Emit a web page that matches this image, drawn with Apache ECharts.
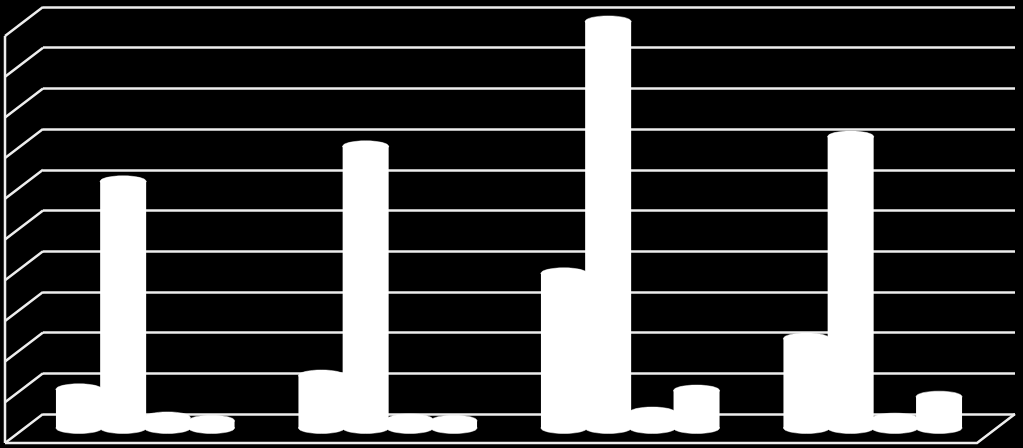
<!DOCTYPE html>
<html><head><meta charset="utf-8">
<style>html,body{margin:0;padding:0;background:#000}#c{width:1023px;height:448px}</style>
<script src="https://cdn.jsdelivr.net/npm/echarts@6/dist/echarts.min.js"></script>
</head><body><div id="c"></div>
<script>
const categories = ['Group 1','Group 2','Group 3','Group 4'];
const seriesA = [9.5, 12.9, 38.0, 22.0];
const seriesB = [60.6, 69.2, 99.9, 71.6];
const seriesC = [2.6, 2.1, 3.8, 2.3];
const seriesD = [1.8, 1.8, 9.2, 7.7];
const ticks = [0,10,20,30,40,50,60,70,80,90,100];

const chart = echarts.init(document.getElementById('c'), null, {renderer:'canvas'});
const all = [seriesA, seriesB, seriesC, seriesD];
const barStep = 44.2, barW = 46, ry = 5.5;

function cylinder(idx){
  return function(params, api){
    const cat = api.value(0), v = api.value(1);
    const top = api.coord([cat, v]), base = api.coord([cat, 0]);
    const cx = top[0] + (idx - 1.5) * barStep;
    const white = {fill:'#fff', stroke:'#fff', lineWidth:0.5};
    return {type:'group', children:[
      {type:'rect', shape:{x:cx-barW/2, y:top[1], width:barW, height:base[1]-top[1]}, style:{fill:'#fff'}},
      {type:'ellipse', shape:{cx:cx, cy:base[1], rx:barW/2, ry:ry}, style:white},
      {type:'ellipse', shape:{cx:cx, cy:top[1], rx:barW/2, ry:ry}, style:white}
    ]};
  };
}
const lineSt = {stroke:'#eeeeee', lineWidth:2.5, fill:null};
function wallDiagonal(params, api){
  const p = api.coord([0, api.value(1)]);
  const children = [{type:'line', shape:{x1:p[0]-38, y1:p[1]+29, x2:p[0], y2:p[1]}, style:lineSt}];
  if (api.value(1) === 0) {
    const r = api.coord([1, 0]);
    children.push(
      {type:'polyline', shape:{points:[[p[0]-38,p[1]+29],[r[0]-38,p[1]+29],[r[0],p[1]]]}, style:lineSt}
    );
  }
  if (api.value(1) === 100) {
    const b = api.coord([0, 0]);
    children.push({type:'line', shape:{x1:p[0]-38, y1:p[1]+29, x2:b[0]-38, y2:b[1]+29}, style:lineSt});
  }
  return {type:'group', children};
}

chart.setOption({
  backgroundColor:'#000',
  animation:false,
  grid:[
    {left:43, right:8, top:7, height:407},
    {left:24, right:29, top:21, height:407}
  ],
  xAxis:[
    {gridIndex:0, type:'value', min:0, max:1, show:false},
    {gridIndex:1, type:'category', data:categories, show:false}
  ],
  yAxis:[
    {gridIndex:0, type:'value', min:0, max:100, interval:10, axisLine:{show:false}, axisTick:{show:false}, axisLabel:{show:false},
     splitLine:{show:true, lineStyle:{color:'#eeeeee', width:2.5}}},
    {gridIndex:1, type:'value', min:0, max:100, show:false}
  ],
  series:[
    {type:'custom', xAxisIndex:0, yAxisIndex:0, silent:true, clip:false, renderItem:wallDiagonal,
     data:ticks.map(t=>[0,t]), encode:{x:0,y:1}},
    ...all.map((vals,i)=>({type:'custom', xAxisIndex:1, yAxisIndex:1, silent:true, clip:false,
      renderItem:cylinder(i), data:vals.map((v,j)=>[j,v]), encode:{x:0,y:1}}))
  ]
});
</script></body></html>
